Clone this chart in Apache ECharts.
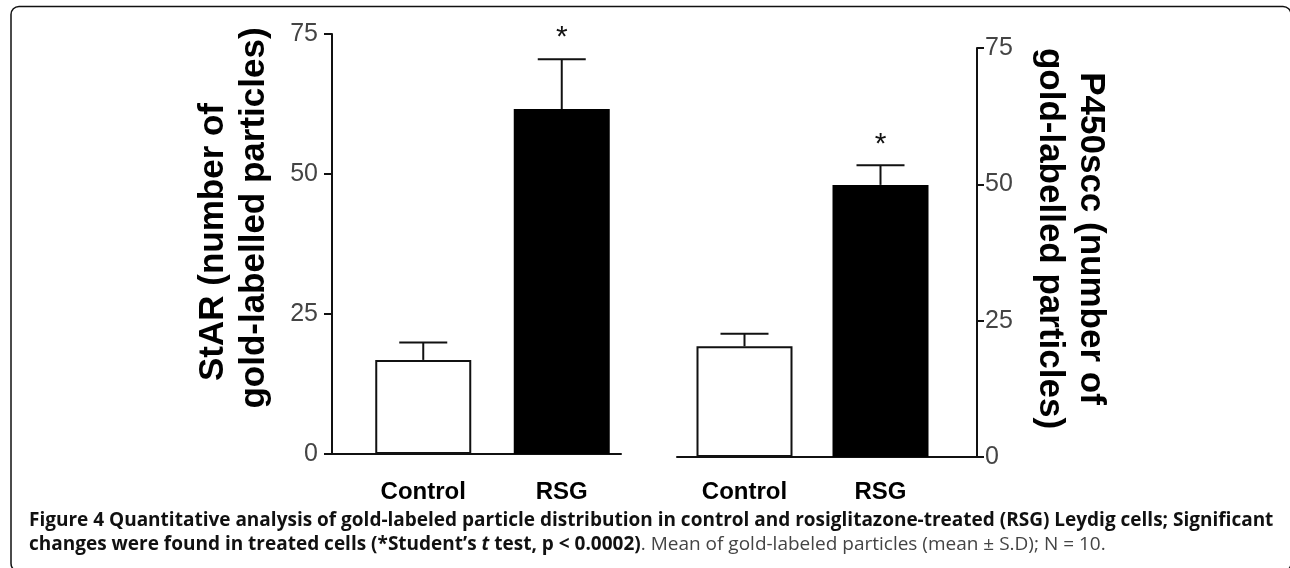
<!DOCTYPE html>
<html>
<head>
<meta charset="utf-8">
<script src="https://cdn.jsdelivr.net/npm/echarts@6/dist/echarts.min.js"></script>
<style>
  html, body { margin: 0; padding: 0; background: #fff; }
  #chart { width: 1290px; height: 568px; }
</style>
</head>
<body>
<div id="chart"></div>
<script>
// ---- data ----
const categories = ['Control', 'RSG'];
const starMeans = [16.8, 61.6];
const starSD = [3.1, 8.9];
const p450Means = [20.3, 49.9];
const p450SD = [2.3, 3.6];
const significance = ['', '*'];
const yMin = 0, yMax = 75, yInterval = 25;
const starTitleLines = ['StAR (number of', 'gold-labelled particles)'];
const p450TitleLines = ['P450scc (number of', 'gold-labelled particles)'];
const captionBold1 = 'Figure 4 Quantitative analysis of gold-labeled particle distribution in control and rosiglitazone-treated (RSG) Leydig cells; Significant';
const captionBold2a = 'changes were found in treated cells (*Student\u2019s ';
const captionItalic = 't';
const captionBold2b = ' test, p < 0.0002)';
const captionRegular = '. Mean of gold-labeled particles (mean \u00b1 S.D); N = 10.';

const FONT = '"Liberation Sans", Arial, sans-serif';
const CAP_FONT = '"Open Sans", "Noto Sans", sans-serif';
const CAP_SIZE = 19;

const chart = echarts.init(document.getElementById('chart'), null, { renderer: 'canvas' });

function frameX(gridIndex) {
  return {
    gridIndex, type: 'category', data: categories,
    axisLine: { show: true, lineStyle: { color: '#111', width: 2 } },
    axisTick: { show: false }, axisLabel: { show: false }, splitLine: { show: false }
  };
}
function barX(gridIndex, margin) {
  return {
    gridIndex, type: 'category', data: categories,
    axisLine: { show: false }, axisTick: { show: false },
    axisLabel: { show: true, color: '#000', fontFamily: FONT, fontWeight: 'bold', fontSize: 24, margin: margin }
  };
}
function hiddenY(gridIndex) {
  return { gridIndex, type: 'value', min: yMin, max: yMax, interval: yInterval, show: false, splitLine: { show: false } };
}
function errorSeries(xi, yi, means, sds) {
  return {
    type: 'custom', xAxisIndex: xi, yAxisIndex: yi, clip: false, z: 5,
    data: means.map((m, i) => [i, m, sds[i]]),
    renderItem: function (params, api) {
      const i = api.value(0), m = api.value(1), sd = api.value(2);
      const base = api.coord([i, m]);
      const top = api.coord([i, m + sd]);
      const half = 24;
      const children = [
        { type: 'line', shape: { x1: base[0], y1: base[1], x2: top[0], y2: top[1] }, style: { stroke: '#111', lineWidth: 2 } },
        { type: 'line', shape: { x1: top[0] - half, y1: top[1], x2: top[0] + half, y2: top[1] }, style: { stroke: '#111', lineWidth: 2 } }
      ];
      const sig = significance[params.dataIndex];
      if (sig) {
        children.push({ type: 'text', style: { text: sig, x: top[0], y: top[1] - 36, align: 'center', verticalAlign: 'top', font: '30px ' + FONT, fill: '#111' } });
      }
      return { type: 'group', children };
    }
  };
}
function barSeries(xi, yi, means) {
  return {
    type: 'bar', xAxisIndex: xi, yAxisIndex: yi, barWidth: 96, z: 3,
    data: means.map((m, i) => ({
      value: m,
      itemStyle: i === 0 ? { color: '#fff', borderColor: '#111', borderWidth: 2 } : { color: '#000', borderColor: '#000', borderWidth: 2 }
    }))
  };
}
const titleRich = {
  l1: { color: '#000', fontFamily: FONT, fontWeight: 'bold', fontSize: 35, lineHeight: 41, padding: [0, 48, 0, 0] },
  l2: { color: '#000', fontFamily: FONT, fontWeight: 'bold', fontSize: 35, lineHeight: 41 }
};

const option = {
  backgroundColor: '#fff',
  animation: false,
  grid: [
    { left: 332, top: 34, width: 289, height: 420, outerBoundsMode: 'none' },
    { left: 354, top: 34, width: 277, height: 420, outerBoundsMode: 'none' },
    { left: 677, top: 48, width: 300, height: 409, outerBoundsMode: 'none' },
    { left: 676.5, top: 48, width: 272, height: 409, outerBoundsMode: 'none' }
  ],
  xAxis: [frameX(0), barX(1, 26), frameX(2), barX(3, 23)],
  yAxis: [
    {
      gridIndex: 0, type: 'value', min: yMin, max: yMax, interval: yInterval, position: 'left',
      axisLine: { show: true, lineStyle: { color: '#111', width: 2 } },
      axisTick: { show: true, inside: false, length: 8, lineStyle: { color: '#111', width: 2 } },
      axisLabel: { color: '#444', fontFamily: FONT, fontSize: 25, margin: 14 },
      splitLine: { show: false },
      name: '{l1|' + starTitleLines[0] + '}\n{l2|' + starTitleLines[1] + '}',
      nameLocation: 'middle', nameRotate: 90, nameGap: 57,
      nameTextStyle: { color: '#000', fontFamily: FONT, fontWeight: 'bold', fontSize: 35, lineHeight: 41, padding: [0, 0, 0, 52], rich: titleRich }
    },
    hiddenY(1),
    {
      gridIndex: 2, type: 'value', min: yMin, max: yMax, interval: yInterval, position: 'right',
      axisLine: { show: true, lineStyle: { color: '#111', width: 2 } },
      axisTick: { show: true, inside: false, length: 7, lineStyle: { color: '#111', width: 2 } },
      axisLabel: { color: '#444', fontFamily: FONT, fontSize: 25, margin: 8 },
      splitLine: { show: false },
      name: p450TitleLines.join('\n'), nameLocation: 'middle', nameRotate: -90, nameGap: 52,
      nameTextStyle: { color: '#000', fontFamily: FONT, fontWeight: 'bold', fontSize: 35, lineHeight: 41, padding: [0, 28, 0, 0] }
    },
    hiddenY(3)
  ],
  series: [
    barSeries(1, 1, starMeans),
    errorSeries(1, 1, starMeans, starSD),
    barSeries(3, 3, p450Means),
    errorSeries(3, 3, p450Means, p450SD)
  ],
  graphic: [
    {
      type: 'rect', z: 0, silent: true,
      shape: { x: 11, y: 6.5, width: 1280, height: 565, r: 8 },
      style: { fill: 'none', stroke: '#111', lineWidth: 1.5 }
    },
    {
      type: 'text', left: 29, top: 511, silent: true,
      style: {
        text: captionBold1,
        font: 'bold ' + CAP_SIZE + 'px ' + CAP_FONT, fill: '#111'
      }
    },
    {
      type: 'text', left: 29, top: 535, silent: true,
      style: {
        text: '{b|' + captionBold2a + '}{bi|' + captionItalic + '}{b|' + captionBold2b + '}{r|' + captionRegular + '}',
        font: CAP_SIZE + 'px ' + CAP_FONT,
        rich: {
          b: { fontFamily: CAP_FONT, fontWeight: 'bold', fontSize: CAP_SIZE, fill: '#111' },
          bi: { fontFamily: CAP_FONT, fontWeight: 'bold', fontStyle: 'italic', fontSize: CAP_SIZE, fill: '#111' },
          r: { fontFamily: CAP_FONT, fontWeight: 'normal', fontSize: CAP_SIZE, fill: '#444' }
        }
      }
    }
  ]
};
chart.setOption(option);
</script>
</body>
</html>
